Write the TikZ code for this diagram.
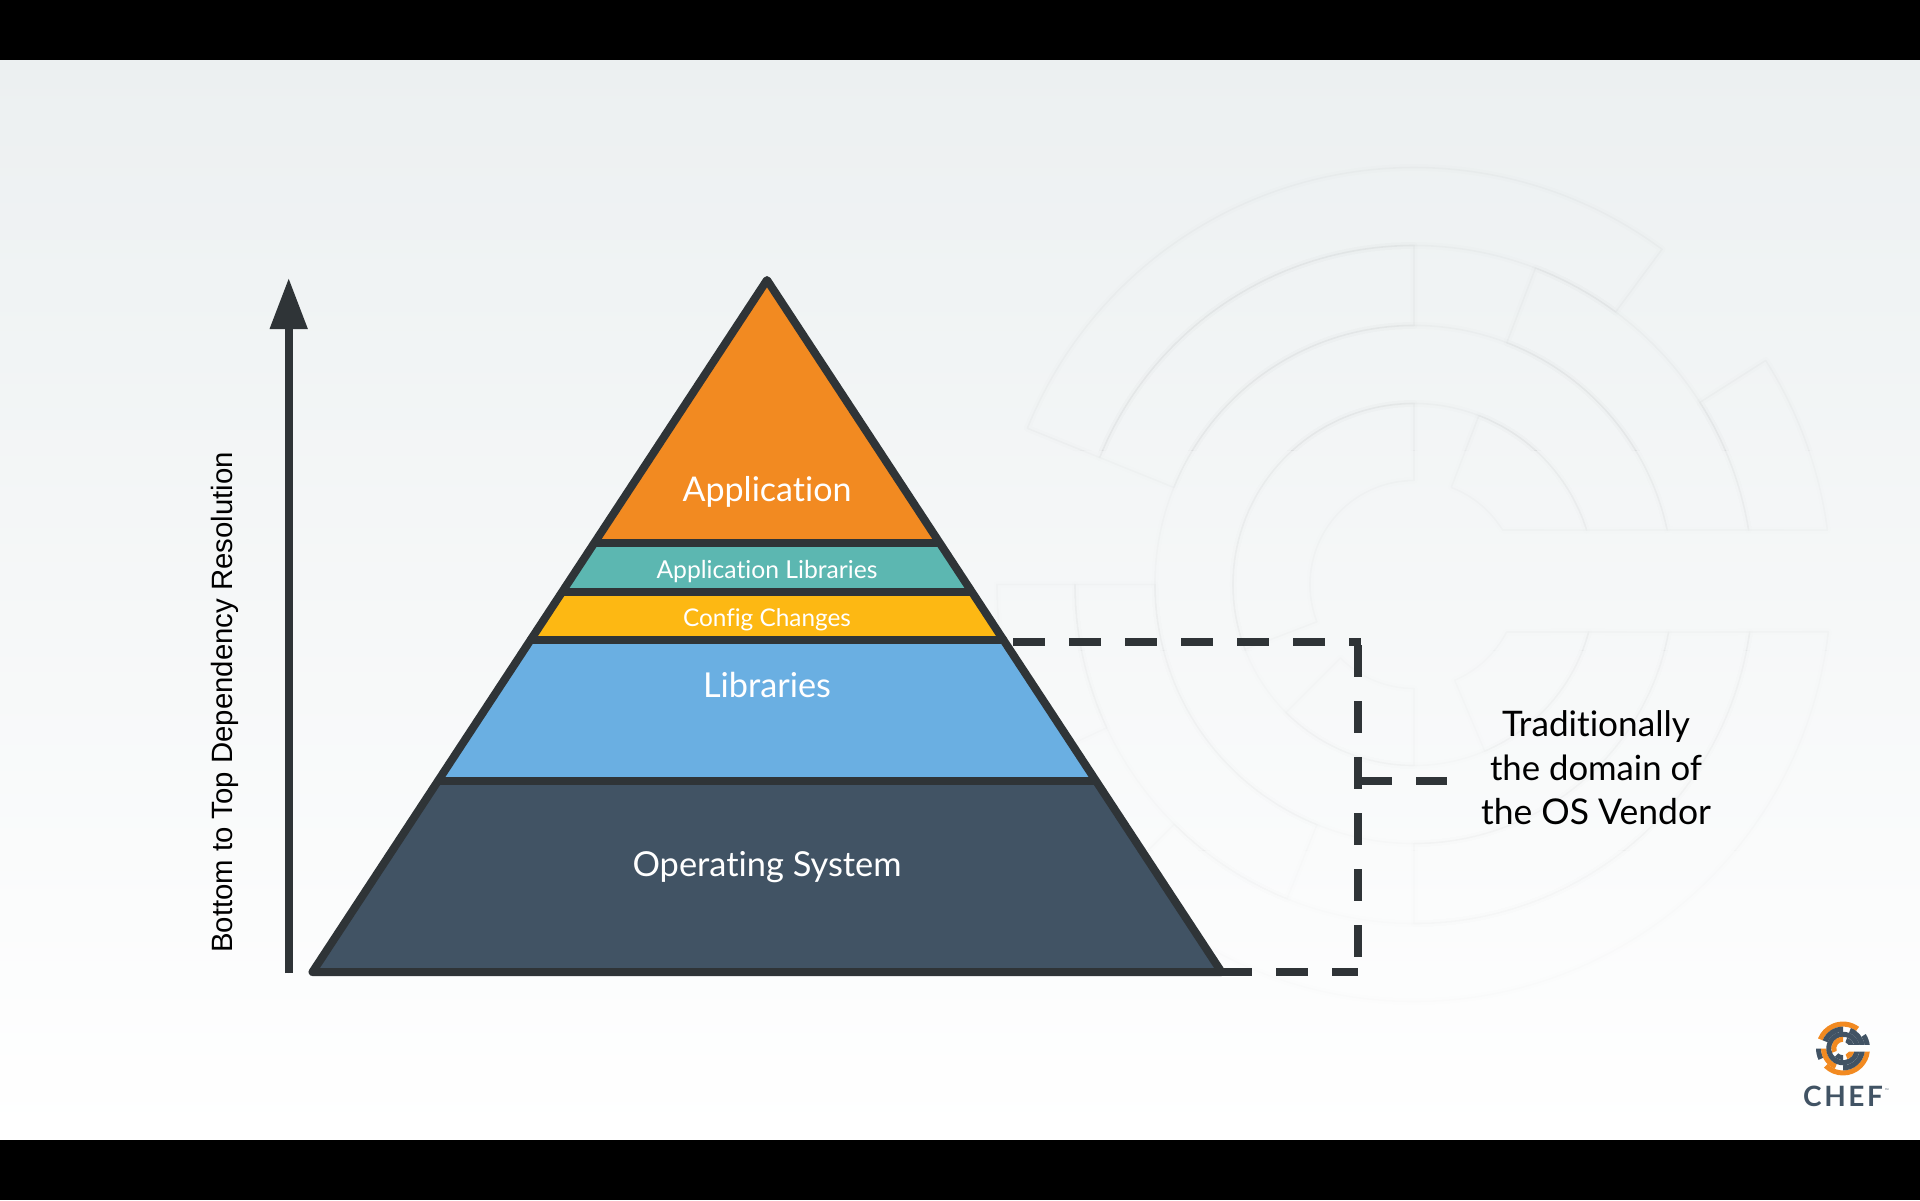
\documentclass[tikz,border=0pt]{standalone}
\usepackage{fontspec}
\usetikzlibrary{arrows.meta}
\setmainfont{Lato}[Ligatures=NoCommon]
\newfontfamily\arialfont{Liberation Sans}
\newfontfamily\cheffont[LetterSpace=9]{Lato}
\definecolor{inkc}{HTML}{2F3437}
\definecolor{orangec}{HTML}{F28A21}
\definecolor{tealc}{HTML}{5CB7B1}
\definecolor{yellowc}{HTML}{FDB813}
\definecolor{bluec}{HTML}{6AAFE2}
\definecolor{slatec}{HTML}{415364}
\definecolor{topbg}{HTML}{ECF0F1}
\newsavebox\fitbox
\newcommand\fittext[2]{\sbox\fitbox{\fontsize{100}{120}\selectfont #2}\pgfmathsetmacro\fitsize{#1/\the\wd\fitbox*100}\fontsize{\fitsize}{\fitsize}\selectfont #2}
% ring piece: style, outer r, inner r, outer start, outer end, inner start, inner end
\newcommand\ringpiece[7]{\path[#1] (#4:#2) arc[start angle=#4,end angle=#5,radius=#2] -- (#7:#3) arc[start angle=#7,end angle=#6,radius=#3] -- cycle;}
\newcommand\chefmark[2]{%
  \ringpiece{#1}{417}{339}{53.5}{158}{53.5}{158}
  \ringpiece{#2}{417}{339}{7.5}{32.5}{9.25}{32.5}
  \ringpiece{#2}{417}{339}{180}{205}{180}{205}
  \ringpiece{#1}{417}{339}{225}{353.5}{225}{351.95}
  \ringpiece{#2}{339}{259}{90}{158}{90}{158}
  \ringpiece{#2}{339}{259}{9.25}{69}{12.15}{69}
  \ringpiece{#1}{339}{259}{180}{248}{180}{248}
  \ringpiece{#2}{339}{259}{270}{351.95}{270}{349.4}
  \ringpiece{#2}{259}{181}{12.15}{349.4}{17.5}{344.8}
  \ringpiece{#2}{181}{104}{17.5}{69}{31.6}{69}
  \ringpiece{#1}{181}{104}{90}{201}{90}{201}
  \ringpiece{#2}{181}{104}{225}{270}{225}{270}
  \ringpiece{#1}{181}{104}{293}{344.8}{293}{332.8}
}
\tikzset{
  layer/.style={line width=8pt,draw=inkc,line join=round},
  sepline/.style={line width=8pt,draw=inkc,line cap=round},
  dashline/.style={line width=8pt,draw=inkc,dash pattern=on 32pt off 24pt},
  laylabel/.style={anchor=base,text=white,inner sep=0pt},
  sidelabel/.style={anchor=base,text=black,inner sep=0pt},
  wmhalo/.style={draw=black,draw opacity=.38*\wmop,line width=7pt,line join=round},
  wmline/.style={draw=black,draw opacity=\wmop,line width=1.6pt,line join=round},
  logoorange/.style={fill=orangec},
  logodark/.style={fill=slatec},
}
\begin{document}
\begin{tikzpicture}[x=1pt,y=-1pt]
\useasboundingbox (0,0) rectangle (1920,1200);
% background
\fill[white] (0,0) rectangle (1920,1200);
\shade[top color=topbg,bottom color=white] (0,60) rectangle (1920,1140);
% watermark, fading towards the bottom
\foreach \ya/\yb/\wmop in {60/450/.019,450/650/.015,650/850/.011,850/1140/.008}{
  \begin{scope}
    \clip (900,\ya) rectangle (1920,\yb);
    \begin{scope}[shift={(1414,584.5)},yscale=-1]
      \chefmark{wmhalo}{wmhalo}
      \chefmark{wmline}{wmline}
    \end{scope}
  \end{scope}
}
\fill[black] (0,0) rectangle (1920,60);
\fill[black] (0,1140) rectangle (1920,1200);
% pyramid coordinates
\coordinate (apex) at (767,280);
\coordinate (l1) at (594.3,543);  \coordinate (r1) at (939.7,543);
\coordinate (l2) at (562.1,592);  \coordinate (r2) at (971.9,592);
\coordinate (l3) at (530.6,640);  \coordinate (r3) at (1003.4,640);
\coordinate (l4) at (438,781);    \coordinate (r4) at (1096,781);
\coordinate (l5) at (312.5,972);  \coordinate (r5) at (1221.5,972);
\fill[orangec] (apex) -- (l1) -- (r1) -- cycle;
\fill[tealc] (l1) -- (l2) -- (r2) -- (r1) -- cycle;
\fill[yellowc] (l2) -- (l3) -- (r3) -- (r2) -- cycle;
\fill[bluec] (l3) -- (l4) -- (r4) -- (r3) -- cycle;
\fill[slatec] (l4) -- (l5) -- (r5) -- (r4) -- cycle;
\draw[layer] (apex) -- (l5) -- (r5) -- cycle;
\draw[sepline,line cap=butt] (l1) -- (r1);
\draw[sepline,line cap=butt] (l2) -- (r2);
\draw[sepline] (l3) -- (r3);
\draw[sepline,line cap=butt] (l4) -- (r4);
% labels
\node[laylabel] (app) at (767,501) {\fittext{169}{Application}};
\node[laylabel] (applibs) at (767,578) {\fittext{221}{Application Libraries}};
\node[laylabel] (config) at (767,626) {\fittext{168}{Config Changes}};
\node[laylabel] (libs) at (767,697) {\fittext{128}{Libraries}};
\node[laylabel] (os) at (767,876) {\fittext{269}{Operating System}};
\node[sidelabel] (t1) at (1596,736) {\fittext{188}{Traditionally}};
\node[sidelabel] (t2) at (1596,780) {\fittext{212}{the domain of}};
\node[sidelabel] (t3) at (1596,824) {\fittext{230}{the OS Vendor}};
% dependency arrow
\coordinate (arrowfoot) at (288.7,973);
\coordinate (arrowtip) at (288.7,278);
\draw[draw=inkc,fill=inkc,line width=8pt,-{Triangle[width=36pt,length=51pt]}] (arrowfoot) -- (arrowtip);
\node[anchor=base west,rotate=90,inner sep=0pt,font=\arialfont,text=black] (dep) at (232.7,953) {\fittext{501}{Bottom to Top Dependency Resolution}};
% bracket
\coordinate (a1) at (1013,642);  \coordinate (a2) at (1361,642);
\coordinate (b1) at (1357.5,645); \coordinate (b2) at (1357.5,958);
\coordinate (c1) at (1220,972);  \coordinate (c2) at (1358,972);
\coordinate (d1) at (1360,781);  \coordinate (d2) at (1447,781);
\draw[dashline] (a1) -- (a2);
\draw[dashline] (b1) -- (b2);
\draw[dashline] (c1) -- (c2);
\draw[dashline] (d1) -- (d2);
% logo
\begin{scope}[shift={(1843,1048.5)},xscale=.0647,yscale=-.0647]
  \chefmark{logoorange}{logodark}
\end{scope}
\node[anchor=base west,inner sep=0pt,text=slatec,font=\cheffont\bfseries\fontsize{28}{28}\selectfont] (cheflogo) at (1803,1106) {CHEF};
\node[anchor=base west,inner sep=0pt,text=slatec,font=\fontsize{5}{5}\selectfont] (tm) at (1885,1092) {™};
\end{tikzpicture}
\end{document}
